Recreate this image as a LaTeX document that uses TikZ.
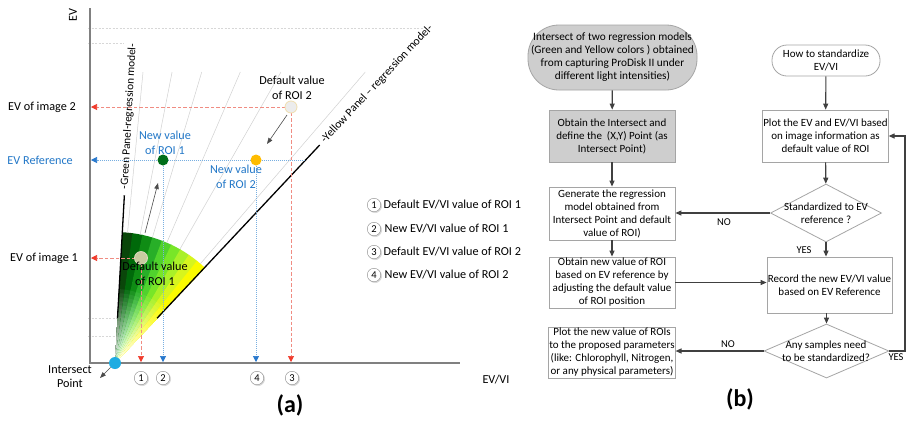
\documentclass[tikz,border=0pt]{standalone}
\usepackage{fontspec}
\setmainfont{Carlito}
\usetikzlibrary{arrows.meta,calc,shapes.geometric,shapes.misc,shadows}
\definecolor{axgray}{RGB}{128,128,128}
\definecolor{redd}{RGB}{240,60,45}
\definecolor{redl}{RGB}{240,140,130}
\definecolor{blued}{RGB}{40,120,205}
\definecolor{bluel}{RGB}{120,175,225}
\definecolor{txtblue}{RGB}{35,120,200}
\definecolor{boxgray}{RGB}{165,165,165}
\definecolor{arrgray}{RGB}{64,64,64}
\definecolor{fillgray}{RGB}{206,206,206}
\definecolor{faint}{RGB}{215,215,215}
\definecolor{f1}{RGB}{10,70,10}
\definecolor{f2}{RGB}{0,105,10}
\definecolor{f3}{RGB}{15,140,20}
\definecolor{f4}{RGB}{40,175,40}
\definecolor{f5}{RGB}{80,210,45}
\definecolor{f6}{RGB}{120,230,40}
\definecolor{f7}{RGB}{170,240,40}
\definecolor{f8}{RGB}{215,245,30}
\definecolor{f9}{RGB}{250,250,0}
\begin{document}
\begin{tikzpicture}[x=1pt,y=-1pt,
  lbl/.style={font=\fontsize{12.2}{15}\selectfont, inner sep=0pt, align=center},
  reddash/.style={draw=redl, line width=0.7pt, dash pattern=on 3.5pt off 2pt, -{Triangle[length=6pt,width=6pt,fill=redd,color=redd]}},
  bluedot/.style={draw=bluel, line width=0.7pt, dash pattern=on 1pt off 1pt, -{Triangle[length=6pt,width=6pt,fill=blued,color=blued]}},
  faintline/.style={draw=faint, line width=0.5pt, dash pattern=on 2pt off 1.5pt},
  fanline/.style={draw=black!18, line width=0.5pt},
  garr/.style={draw=black!70, line width=0.6pt, -{Triangle[length=6pt,width=4.5pt]}},
  cnum/.style={circle, draw=black!45, fill=white, inner sep=0pt, minimum size=13.5pt, font=\fontsize{10.5}{11}\selectfont,
     circular drop shadow={shadow xshift=0.7pt, shadow yshift=-0.7pt, fill=black!25, opacity=0.6}},
  box/.style={draw=boxgray, line width=0.8pt, minimum width=126pt, minimum height=52pt, align=center,
     font=\fontsize{11}{13}\selectfont, inner sep=0.5pt},
  dtext/.style={align=center, font=\fontsize{11}{13}\selectfont, inner sep=0pt},
  farr/.style={draw=arrgray, line width=1.1pt, -{Triangle[length=6pt,width=5pt]}},
  flbl/.style={font=\fontsize{10.5}{12}\selectfont, inner sep=0pt}
]
\useasboundingbox[fill=white] (0,0) rectangle (921,424);

% ---------- panel (a) ----------
\coordinate (g1a) at (88,28);  \coordinate (g1b) at (423,28);
\coordinate (g2a) at (88,43);  \coordinate (g2b) at (124,43);
\coordinate (g3a) at (88,318); \coordinate (g3b) at (158,318);
\coordinate (g4a) at (88,336); \coordinate (g4b) at (115,336);
\draw[faintline] (g1a) -- (g1b);
\draw[faintline] (g2a) -- (g2b);
\draw[faintline] (g3a) -- (g3b);
\draw[faintline] (g4a) -- (g4b);

% fan
\begin{scope}[shift={(115,363)}]
  \foreach \c [count=\i] in {f1,f2,f3,f4,f5,f6,f7,f8,f9}{
    \pgfmathsetmacro\aA{86.8-(\i-1)*4.4444}
    \pgfmathsetmacro\aB{\aA-4.4444-0.3}
    \foreach \r in {131,78,74,70,66,62,58,54,50,46,42,38,34,30,26,22,18,14,10,6}{
      \pgfmathtruncatemacro\p{min(100,\r/78*100)}
      \fill[\c!\p!white] (0,0) -- (\aA:\r pt) arc[start angle=\aA, end angle=\aB, radius=\r pt] -- cycle;
    }
  }
  \foreach \a in {84.5,78.9,73.4,66.7,60.3,49.3}{
    \pgfmathsetmacro\L{291/sin(\a)}
    \draw[fanline] (\a:131pt) -- (\a:\L pt);
  }
  \draw[line width=1.3pt] (86.8:45pt) -- (86.8:168pt);
  \draw[line width=1.3pt] (46.8:61.5pt) -- (46.8:299pt);
  \node[lbl, font=\fontsize{11.3}{12}\selectfont, rotate=86.8] (gtxt) at (86.8:247pt) {-Green Panel-regression model-};
  \node[lbl, font=\fontsize{11.6}{12}\selectfont, rotate=46.8] (ytxt) at (46.8:383pt) {-Yellow Panel -- regression model-};
\end{scope}

% axes
\coordinate (ytop) at (90,8);
\coordinate (org) at (90,363);
\coordinate (xend) at (460,363);
\draw[axgray, line width=1.2pt] (ytop) -- (org) -- (xend);
\coordinate (yaxL) at (91,0);
\coordinate (xaxB) at (0,362);

% point positions
\coordinate (P2) at (291,107);
\coordinate (P1) at (141,258);
\coordinate (Q1) at (163,160);
\coordinate (Q2) at (256,160);
\coordinate (evR) at (305,160);

% dashed / dotted guides
\draw[reddash] (P2) -- (P2 -| yaxL);
\draw[reddash] (P2) -- (P2 |- xaxB);
\draw[reddash] (P1) -- (P1 -| yaxL);
\draw[reddash] (P1) -- (P1 |- xaxB);
\draw[bluedot] (evR) -- (Q1 -| yaxL);
\draw[bluedot] (Q1) -- (Q1 |- xaxB);
\draw[bluedot] (Q2) -- (Q2 |- xaxB);

% points
\node[circle, fill={rgb,255:red,236;green,236;blue,236}, draw={rgb,255:red,240;green,222;blue,175}, line width=0.8pt, minimum size=12pt, inner sep=0] (d2) at (P2) {};
\node[circle, fill={rgb,255:red,200;green,204;blue,160}, draw={rgb,255:red,218;green,218;blue,190}, line width=0.8pt, minimum size=13pt, inner sep=0] (d1) at (P1) {};
\node[circle, fill={rgb,255:red,0;green,110;blue,25}, minimum size=11pt, inner sep=0] (n1) at (Q1) {};
\node[circle, fill={rgb,255:red,255;green,188;blue,0}, minimum size=11pt, inner sep=0] (n2) at (Q2) {};

% intersect point
\node[circle, fill={rgb,255:red,30;green,172;blue,226}, minimum size=12pt, inner sep=0] (ip) at (115,363) {};
\coordinate (ipA) at (100,378);
\draw[garr] (ip) -- (ipA);

% movement arrows
\coordinate (m1a) at (145,233); \coordinate (m1b) at (158,183);
\coordinate (m2a) at (287,115); \coordinate (m2b) at (267,144);
\draw[garr] (m1a) -- (m1b);
\draw[garr] (m2a) -- (m2b);

% labels
\node[lbl, rotate=90] (evl) at (73,15) {EV};
\node[lbl] (evvi) at (496,380) {EV/VI};
\node[lbl, anchor=east] (ev2) at (76,107) {EV of image 2};
\node[lbl, anchor=east, text=txtblue] (evref) at (73,160) {EV Reference};
\node[lbl, anchor=east] (ev1) at (78,258) {EV of image 1};
\node[lbl, font=\fontsize{12.2}{14}\selectfont] (ipl) at (70,377) {Intersect\\Point};
\node[lbl] (d2l) at (292,88) {Default value\\of ROI 2};
\node[lbl, text=txtblue] (n1l) at (165,142.5) {New value\\of ROI 1};
\node[lbl, text=txtblue] (n2l) at (236,176.5) {New value\\of ROI 2};
\node[lbl, font=\fontsize{12.2}{14.5}\selectfont] (d1l) at (155,274) {Default value\\of ROI 1};

% numbered markers
\node[cnum] (c1) at (141,378) {1};
\node[cnum] (c2) at (163,378) {2};
\node[cnum] (c4) at (257,378) {4};
\node[cnum] (c3) at (292,378) {3};

% legend
\node[cnum] (l1) at (374,205) {1};
\node[cnum] (l2) at (374,229) {2};
\node[cnum] (l3) at (374,252) {3};
\node[cnum] (l4) at (374,275) {4};
\node[lbl, anchor=west] (l1t) at (383.5,205) {Default EV/VI value of ROI 1};
\node[lbl, anchor=west] (l2t) at (384.5,229) {New EV/VI value of ROI 1};
\node[lbl, anchor=west] (l3t) at (383.5,252) {Default EV/VI value of ROI 2};
\node[lbl, anchor=west] (l4t) at (384.5,275) {New EV/VI value of ROI 2};

\node[font=\bfseries\fontsize{24}{26}\selectfont, inner sep=0] (pa) at (290,405) {(a)};
\node[font=\bfseries\fontsize{24}{26}\selectfont, inner sep=0] (pb) at (740,399) {(b)};

% ---------- panel (b) ----------
\node[rectangle, rounded corners=31pt, draw=boxgray, line width=0.8pt, fill=fillgray, minimum width=169pt, minimum height=65pt,
      align=center, font=\fontsize{11.3}{13}\selectfont, inner sep=0pt] (t1) at (612.5,57.5)
  {Intersect of two regression models\\(Green and Yellow colors ) obtained\\from capturing ProDisk II under\\different light intensities)};
\node[box, fill=fillgray] (b2) at (612,136) {Obtain the Intersect and\\define the\ \ (X,Y) Point (as\\Intersect Point)};
\node[box, minimum height=53pt] (b3) at (612,213.5) {Generate the regression\\model obtained from\\Intersect Point and default\\value of ROI)};
\node[box, minimum height=51pt] (b4) at (612,282.5) {Obtain new value of ROI\\based on EV reference by\\adjusting the default value\\of ROI position};
\node[box, minimum height=51pt] (b7) at (612,352.5) {Plot the new value of ROIs\\to the proposed parameters\\(like: Chlorophyll, Nitrogen,\\or any physical parameters)};

\node[rectangle, rounded corners=15pt, draw=boxgray, line width=0.8pt, fill=white, minimum width=108pt, minimum height=31pt,
      align=center, font=\fontsize{11}{13}\selectfont, inner sep=0pt] (t2) at (826,60.5) {How to standardize\\EV/VI};
\node[box, minimum width=125pt] (b5) at (825.5,136) {Plot the EV and EV/VI based\\on image information as\\default value of ROI};
\node[diamond, draw=boxgray, line width=0.8pt, fill=white, minimum width=111pt, minimum height=58pt, inner sep=0pt] (dm1) at (826,213) {};
\node[dtext] (dm1t) at (826,213) {Standardized to EV\\reference ?};
\node[box, minimum width=125pt, minimum height=56pt] (b6) at (829.5,285) {Record the new EV/VI value\\based on EV Reference};
\node[diamond, draw=boxgray, line width=0.8pt, fill=white, minimum width=125pt, minimum height=54pt, inner sep=0pt] (dm2) at (826.5,351) {};
\node[dtext] (dm2t) at (826,351) {Any samples need\\to be standardized?};

\coordinate (yesR) at (905,136);
\draw[farr] (t1) -- (b2);
\draw[farr] (b2) -- (b3);
\draw[farr] (b3) -- (b4);
\draw[farr] (t2) -- (b5);
\draw[farr] (b5) -- (dm1);
\draw[farr] (dm1.west) -- (dm1.west -| b3.east);
\draw[farr] (dm1.south) -- (b6.north -| dm1.south);
\draw[farr] (b4.east) -- (b4.east -| b6.west);
\draw[farr] (b6.south -| dm2.north) -- (dm2.north);
\draw[farr] (dm2.west) -- (dm2.west -| b7.east);
\draw[farr] (dm2.east) -- (dm2.east -| yesR) |- (b5.east);

\node[flbl] (no1) at (724,222) {NO};
\node[flbl] (yes1) at (804,250) {YES};
\node[flbl] (no2) at (728,344) {NO};
\node[flbl] (yes2) at (896,357) {YES};
\end{tikzpicture}
\end{document}
